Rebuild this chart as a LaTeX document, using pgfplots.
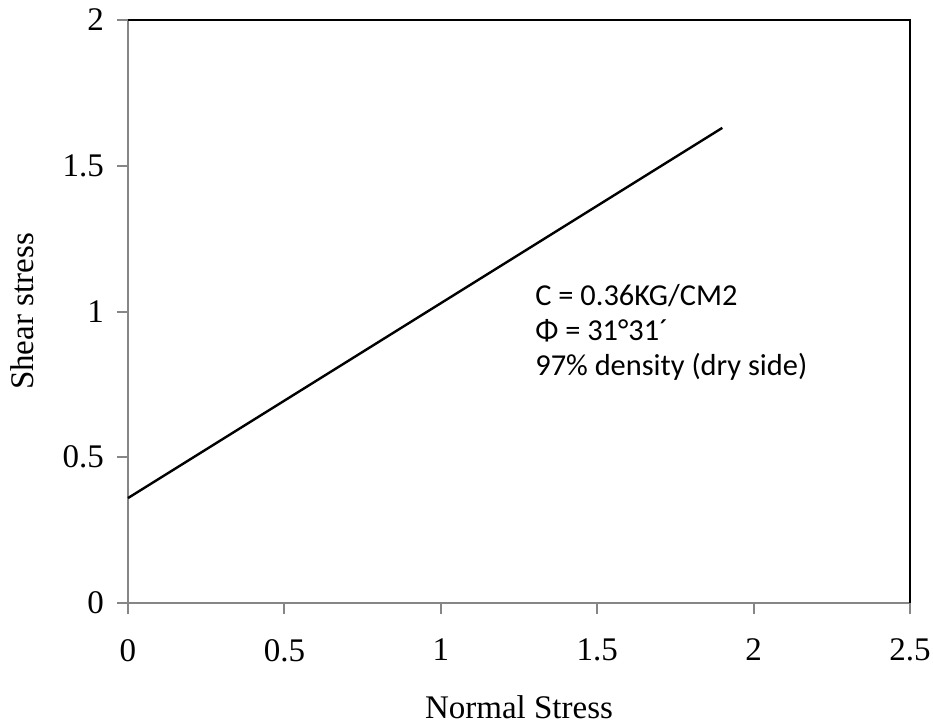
\documentclass[border=0pt]{standalone}
\usepackage{fontspec}
\setmainfont{Liberation Serif}
\newfontfamily\carlito{Carlito}
\usepackage{pgfplots}
\pgfplotsset{compat=1.18}
\definecolor{axgray}{RGB}{134,134,134}
\begin{document}
\begin{tikzpicture}
\path[use as bounding box] (-64pt,-61pt) rectangle (402.5pt,301.5pt);
\begin{axis}[
  at={(0,0)}, anchor=south west,
  scale only axis,
  width=391pt, height=291.5pt,
  xmin=0, xmax=2.5, ymin=0, ymax=2,
  xtick={0,0.5,...,2.5}, ytick={0,0.5,...,2},
  axis x line*=bottom, axis y line*=left,
  axis line style={axgray, line width=1pt, -},
  tick style={axgray, line width=1pt},
  tick align=outside, major tick length=5.5pt,
  /pgf/number format/assume math mode=true,
  ticklabel style={font=\fontsize{16.5}{19}\selectfont},
  label style={font=\fontsize{16.5}{19}\selectfont},
  xticklabel style={yshift=-9pt},
  yticklabel style={xshift=-3pt},
  xlabel={Normal Stress}, ylabel={Shear stress},
  xlabel style={at={(axis description cs:0.5,-0.178)}, anchor=center},
  ylabel style={at={(axis description cs:-0.1355,0.5)}, anchor=center},
  clip=false,
]
\addplot[black, line width=1.2pt] coordinates {(0,0.36) (1.9,1.63)};
\draw[black, line width=1pt] (rel axis cs:0,1) -- (rel axis cs:1,1) -- (rel axis cs:1,0);
\node[anchor=base west, inner sep=0, font=\carlito\fontsize{15.2}{19}\selectfont] at (axis cs:1.301,1.019) {C = 0.36KG/CM2};
\node[anchor=base west, inner sep=0, font=\carlito\fontsize{15.2}{19}\selectfont] at (axis cs:1.301,0.899) {Φ = 31°31´};
\node[anchor=base west, inner sep=0, font=\carlito\fontsize{15.2}{19}\selectfont] at (axis cs:1.301,0.782) {97\% density (dry side)};
\end{axis}
\end{tikzpicture}
\end{document}
